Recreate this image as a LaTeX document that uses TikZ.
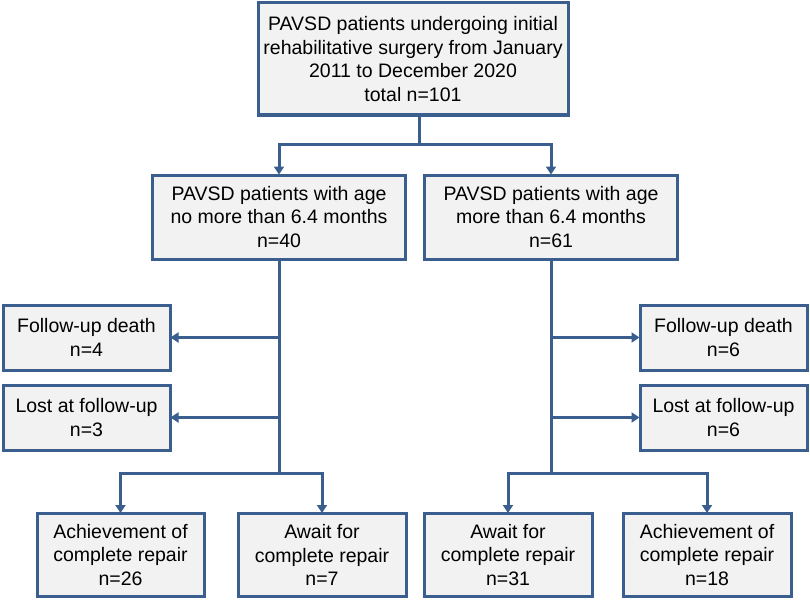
\documentclass[tikz,border=0pt]{standalone}
\usepackage{fontspec}
\setmainfont{Liberation Sans}
\usetikzlibrary{arrows.meta}
\definecolor{bord}{HTML}{3A5F8F}
\definecolor{boxfill}{HTML}{F2F2F2}
\tikzset{
  box/.style={draw=bord, line width=3pt, fill=boxfill, inner sep=0pt, align=center,
    font=\fontsize{19.5}{23.5}\selectfont, text=black},
  line/.style={draw=bord, line width=3pt},
  arr/.style={line, -{Triangle[length=8pt,width=10pt]}, shorten >=-1pt}
}
\begin{document}
\begin{tikzpicture}[x=1pt,y=-1pt]
\useasboundingbox (0,0) rectangle (810,599);
\node[box, minimum width=310pt, minimum height=112pt] (top) at (413,59)
  {PAVSD patients undergoing initial\\rehabilitative surgery from January\\2011 to December 2020\\total n=101};
\node[box, minimum width=253pt, minimum height=84pt] (ml) at (279,217)
  {PAVSD patients with age\\no more than 6.4 months\\n=40};
\node[box, minimum width=253pt, minimum height=84pt] (mr) at (551,217)
  {PAVSD patients with age\\more than 6.4 months\\n=61};
\node[box, minimum width=167pt, minimum height=65pt] (ld) at (86.5,337.5) {Follow-up death\\n=4};
\node[box, minimum width=167pt, minimum height=65pt] (ll) at (86.5,417.5) {Lost at follow-up\\n=3};
\node[box, minimum width=167pt, minimum height=65pt] (rd) at (723.5,337.5) {Follow-up death\\n=6};
\node[box, minimum width=167pt, minimum height=65pt] (rl) at (723.5,417.5) {Lost at follow-up\\n=6};
\node[box, minimum width=167pt, minimum height=83pt] (la) at (120.5,555) {Achievement of\\complete repair\\n=26};
\node[box, minimum width=168pt, minimum height=83pt] (lw) at (322,555) {Await for\\complete repair\\n=7};
\node[box, minimum width=168pt, minimum height=83pt] (rw) at (508,555) {Await for\\complete repair\\n=31};
\node[box, minimum width=168pt, minimum height=83pt] (ra) at (707,555) {Achievement of\\complete repair\\n=18};
\coordinate (jt) at (419,144);
\coordinate (jl) at (279,473);
\coordinate (jr) at (551,473);
\draw[line] (top.south -| jt) -- (jt);
\draw[arr] (jt) -| (ml.north);
\draw[arr] (jt) -| (mr.north);
\draw[line] (ml.south) -- (jl);
\draw[line] (mr.south) -- (jr);
\draw[arr] (ml.south |- ld.east) -- (ld.east);
\draw[arr] (ml.south |- ll.east) -- (ll.east);
\draw[arr] (mr.south |- rd.west) -- (rd.west);
\draw[arr] (mr.south |- rl.west) -- (rl.west);
\draw[arr] (jl) -| (la.north);
\draw[arr] (jl) -| (lw.north);
\draw[arr] (jr) -| (rw.north);
\draw[arr] (jr) -| (ra.north);
\end{tikzpicture}
\end{document}
